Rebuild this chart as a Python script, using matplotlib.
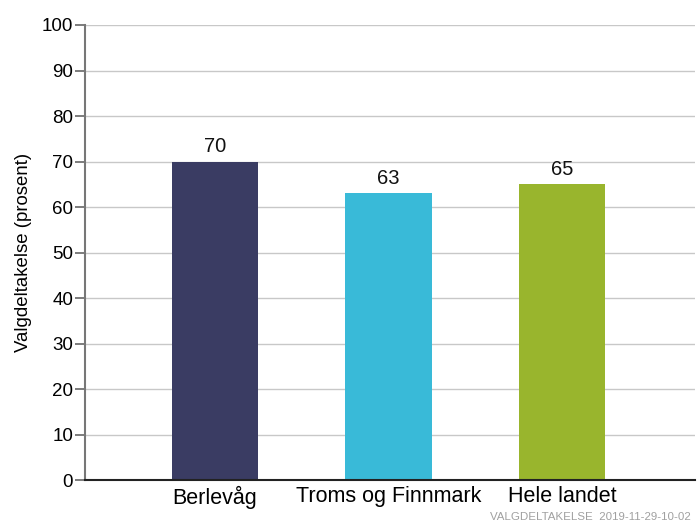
import numpy as np
import matplotlib
matplotlib.use("Agg")
import matplotlib.pyplot as plt

# Data
categories = ["Berlevåg", "Troms og Finnmark", "Hele landet"]
values = [70, 63, 65]
colors = ["#3a3c63", "#39bad8", "#99b52d"]
yticks = list(range(0, 101, 10))

plt.rcParams["font.family"] = ["Liberation Sans", "DejaVu Sans"]

fig = plt.figure(figsize=(6.99, 5.23), dpi=100)
ax = fig.add_axes([0.1216, 0.0822, 0.8727, 0.870])

x = np.arange(len(categories))
ax.bar(x, values, width=0.5, color=colors, zorder=3)
for xi, v in zip(x, values):
    ax.text(xi, v + 1.2, f"{v}", ha="center", va="bottom", fontsize=14.5, color="#111111")

ax.set_xlim(-0.749, 2.767)
ax.set_ylim(0, 100)
ax.set_yticks(yticks)
ax.set_xticks(x)
ax.set_xticklabels(categories, fontsize=15.5)
ax.tick_params(axis="y", labelsize=13.5, length=7, color="#666666", width=1.2, pad=1.5)
ax.tick_params(axis="x", length=0, pad=4)
ax.grid(axis="y", color="#c8c8c8", linewidth=1, zorder=0)
ax.set_ylabel("Valgdeltakelse (prosent)", fontsize=13.4, labelpad=7)

for s in ["top", "right"]:
    ax.spines[s].set_visible(False)
ax.spines["left"].set_color("#777777")
ax.spines["left"].set_linewidth(1.5)
ax.spines["bottom"].set_color("#222222")
ax.spines["bottom"].set_linewidth(1.5)
ax.spines["bottom"].set_zorder(4)

fig.text(0.988, 0.001, "VALGDELTAKELSE  2019-11-29-10-02", ha="right", va="bottom",
         fontsize=8.25, color="#a0a0a0")

fig.savefig("out.png", dpi=100)
